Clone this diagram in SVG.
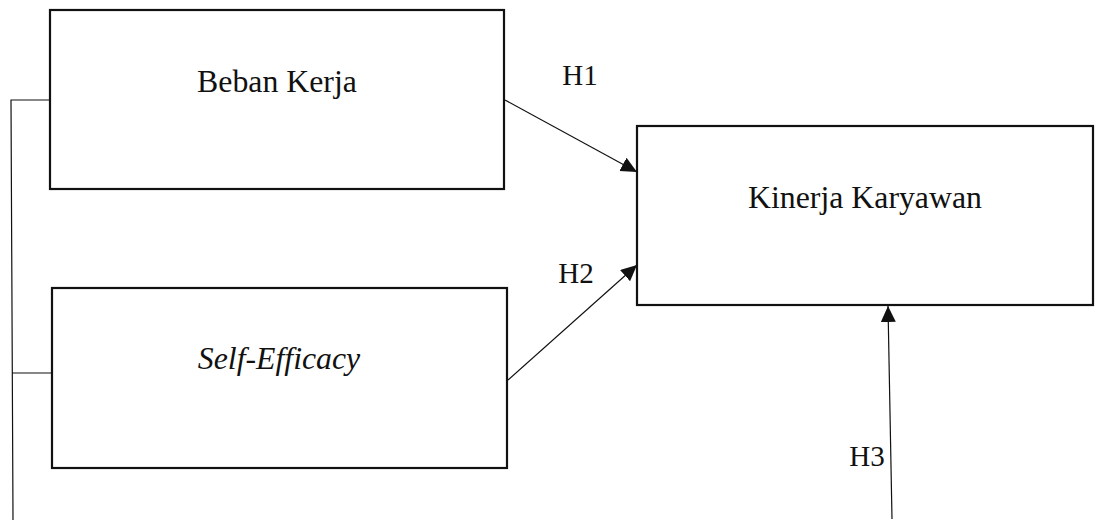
<svg xmlns="http://www.w3.org/2000/svg" width="1099" height="520" viewBox="0 0 1099 520">
<style>
.box{fill:#fff;stroke:#111;stroke-width:2.2}
.lbl{font-family:"Liberation Serif","Times New Roman",serif;font-size:31.8px;fill:#111}
.h{font-family:"Liberation Serif","Times New Roman",serif;font-size:29px;fill:#111}
.con{stroke:#111;stroke-width:1.2;fill:none}
</style>
<defs>
<marker id="arr" markerUnits="userSpaceOnUse" markerWidth="18" markerHeight="16" refX="16" refY="7.5" orient="auto">
<path d="M0,0 L16,7.5 L0,15 z" fill="#111"/>
</marker>
</defs>
<rect width="1099" height="520" fill="#fff"/>
<g id="beban-kerja">
<rect class="box" x="50" y="10" width="454" height="179"/>
<text class="lbl" x="277" y="92" text-anchor="middle">Beban Kerja</text>
</g>
<g id="self-efficacy">
<rect class="box" x="52" y="288" width="455" height="180"/>
<text class="lbl" x="279" y="369" text-anchor="middle" font-style="italic">Self-Efficacy</text>
</g>
<g id="kinerja-karyawan">
<rect class="box" x="637" y="126" width="456" height="179"/>
<text class="lbl" x="865" y="208" text-anchor="middle">Kinerja Karyawan</text>
</g>
<g id="connectors">
<polyline class="con" points="50,100 11,100 13,520"/>
<line class="con" x1="12" y1="373" x2="52" y2="373"/>
<line class="con" x1="505" y1="100" x2="637" y2="172" marker-end="url(#arr)"/>
<line class="con" x1="508" y1="380" x2="637" y2="265" marker-end="url(#arr)"/>
<line class="con" x1="892" y1="519" x2="888" y2="306" marker-end="url(#arr)"/>
<text class="h" x="580" y="85" text-anchor="middle">H1</text>
<text class="h" x="576" y="283" text-anchor="middle">H2</text>
<text class="h" x="867" y="466" text-anchor="middle">H3</text>
</g>
</svg>
